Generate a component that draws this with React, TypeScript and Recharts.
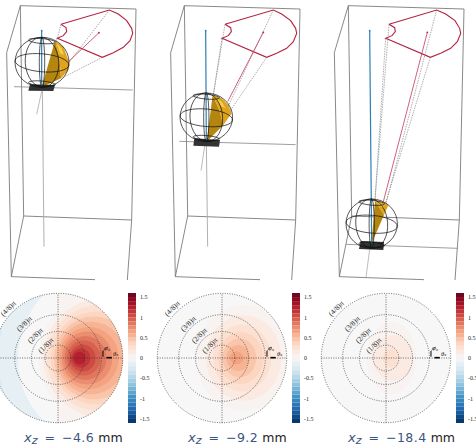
import React from 'react';
import { ScatterChart, Scatter, XAxis, YAxis, ReferenceArea } from 'recharts';

// colour bar bands
const bandEdges = [-1.6, -1.5, -1.4, -1.3, -1.2, -1.1, -1, -0.9, -0.8, -0.7, -0.6, -0.5, -0.4, -0.3, -0.2, -0.1, 0, 0.1, 0.2, 0.3, 0.4, 0.5, 0.6, 0.7, 0.8, 0.9, 1, 1.1, 1.2, 1.3, 1.4, 1.5, 1.6];
const barTicks = [-1.5, -1, -0.5, 0, 0.5, 1, 1.5];
const ringRadii = [0.2, 0.41, 0.67, 1];
const ringLabels = ['(1/8)π', '(2/8)π', '(3/8)π', '(4/8)π'];
const ringLabelX = [-0.18, -0.345, -0.515, -0.76];
const ringLabelY = [0.186, 0.34, 0.52, 0.757];

// contour bands of the three polar maps: value, left, right, half height (disc radius = 1)
const levelsA = [0.05, 0.15, 0.25, 0.35, 0.45, 0.55, 0.65, 0.75, 0.85, 0.95, 1.05, 1.15, 1.25];
const leftA = [-0.3, -0.23, -0.17, -0.11, -0.06, -0.02, 0.02, 0.06, 0.1, 0.14, 0.18, 0.21, 0.24];
const rightA = [1.8, 1.62, 1.46, 1.32, 1.17, 1.05, 0.94, 0.84, 0.75, 0.66, 0.58, 0.5, 0.42];
const halfA = [1.05, 0.92, 0.82, 0.72, 0.64, 0.56, 0.48, 0.41, 0.34, 0.27, 0.21, 0.15, 0.1];
const levelsB = [0.05, 0.15, 0.25, 0.35, 0.45, 0.55, 0.65];
const leftB = [-0.4, -0.25, -0.14, -0.06, 0.01, 0.07, 0.12];
const rightB = [1.08, 0.92, 0.76, 0.64, 0.53, 0.43, 0.33];
const halfB = [0.82, 0.66, 0.52, 0.4, 0.3, 0.2, 0.1];
const levelsC = [0.05, 0.15, 0.25];
const leftC = [-0.3, -0.2, -0.05];
const rightC = [0.47, 0.41, 0.2];
const halfC = [0.56, 0.35, 0.15];

// outer blue crescent of the first map
const blueLevels = [-0.15, 0];
const blueLeft = [-0.92, -0.62];
const blueRight = [1.8, 1.84];
const blueHalf = [1.6, 1.32];

// wireframe sphere, relative to its centre: cx, cy, rx, ry, tilt
const wireCx = [0, 0, 0, 0, 0, 0];
const wireCy = [0, 0.02, -0.85, 0.85, 0, 0];
const wireRx = [1, 1, 0.5, 0.5, 0.62, 0.1];
const wireRy = [1, 0.36, 0.1, 0.1, 1, 1];
const wireTilt = [0, 5, 5, 5, -4, 0];

type P = { x: number; y: number };
const pts = (list: number[][]): P[] => list.map(([x, y]) => ({ x: x / 3, y: y / 3 }));

const panels = [
  {
    w: 160,
    box: [[[61, 17], [408, 27], [395, 660], [382, 840]], [[61, 17], [20, 158], [34, 830], [285, 839]], [[61, 17], [71, 648], [395, 660]], [[71, 648], [34, 830]]],
    floor: [[42, 260], [398, 270]],
    axis: [[127, 260], [132, 740]],
    tail: [[127, 265], [110, 343]],
    blue: [[125, 92], [125, 262]],
    red: [[183, 73], [328, 30], [355, 42], [380, 62], [395, 85], [398, 100], [390, 122], [370, 142], [340, 158], [307, 172], [172, 115], [190, 107], [200, 95], [198, 83], [183, 73]],
    ray: [[297, 98], [200, 190]],
    dashed: [[[328, 30], [205, 190]], [[307, 172], [190, 232]], [[172, 115], [165, 135]], [[183, 73], [172, 115]]],
    wedge: [[125, 262], [165, 122], [178, 170], [183, 235]],
    cap: [[165, 122], [190, 140], [207, 185], [205, 210], [183, 235], [178, 170]],
    glow: [[170, 130], [185, 145], [192, 165], [180, 160]],
    plate: [[90, 253], [165, 255], [160, 273], [85, 272]],
    sphere: [42, 62.3, 27, 25],
  },
  {
    w: 160,
    box: [[[73, 17], [420, 27], [407, 660], [395, 840]], [[73, 17], [32, 158], [46, 830], [300, 839]], [[73, 17], [83, 648], [407, 660]], [[83, 648], [46, 830]]],
    floor: [[58, 424], [407, 434]],
    axis: [[139, 425], [143, 740]],
    tail: [[136, 425], [123, 512]],
    blue: [[137, 92], [139, 425]],
    red: [[195, 73], [340, 30], [365, 42], [392, 62], [407, 85], [410, 100], [400, 125], [380, 145], [350, 160], [320, 172], [186, 115], [205, 107], [214, 95], [212, 83], [195, 73]],
    ray: [[310, 97], [203, 305]],
    dashed: [[[340, 30], [190, 350]], [[320, 172], [195, 355]], [[186, 115], [160, 285]], [[195, 73], [160, 285]]],
    wedge: [[140, 425], [158, 285], [178, 330], [190, 375]],
    cap: [[158, 285], [185, 295], [205, 315], [215, 340], [190, 375], [178, 330]],
    glow: [[165, 292], [185, 305], [197, 325], [182, 318]],
    plate: [[103, 415], [180, 420], [177, 440], [100, 437]],
    sphere: [46.3, 117.3, 26.3, 24.3],
  },
  {
    w: 156,
    box: [[[85, 17], [432, 27], [418, 660], [405, 840]], [[85, 17], [43, 158], [58, 830], [312, 839]], [[85, 17], [95, 648], [418, 660]], [[95, 648], [58, 830]]],
    floor: [[78, 733], [413, 745]],
    axis: [[155, 730], [155, 745]],
    tail: [[150, 740], [138, 832]],
    blue: [[149, 92], [155, 730]],
    red: [[207, 73], [350, 30], [377, 42], [405, 62], [419, 85], [422, 100], [412, 125], [392, 145], [362, 160], [331, 172], [197, 115], [216, 107], [226, 95], [224, 83], [207, 73]],
    ray: [[322, 97], [190, 605]],
    dashed: [[[350, 30], [198, 610]], [[331, 172], [195, 615]], [[197, 115], [165, 600]], [[207, 73], [165, 600]]],
    wedge: [[155, 730], [165, 602], [192, 645]],
    cap: [[165, 602], [195, 608], [205, 616], [192, 645]],
    glow: [[172, 606], [188, 612], [192, 625], [183, 620]],
    plate: [[122, 723], [192, 726], [190, 750], [117, 747]],
    sphere: [51.7, 223.7, 25.7, 24.7],
  },
];

const stops = ['#053061', '#2166ac', '#4393c3', '#92c5de', '#d1e5f0', '#f7f7f7', '#fddbc7', '#f4a582', '#d6604d', '#b2182b', '#67001f'];
const rdbu = (v: number) => {
  const t = Math.min(0.9999, Math.max(0, (v + 1.6) / 3.2)) * 10;
  const i = Math.floor(t);
  const a = parseInt(stops[i].slice(1), 16);
  const b = parseInt(stops[i + 1].slice(1), 16);
  const f = t - i;
  const mix = (s: number) => Math.round(((a >> s) & 255) * (1 - f) + ((b >> s) & 255) * f);
  return `rgb(${mix(16)},${mix(8)},${mix(0)})`;
};

const noDot = () => null as any;

const polyLine = (list: number[][], stroke: string, width: number, key: string, dash?: string) => (
  <Scatter key={key} data={pts(list)} isAnimationActive={false} shape={noDot} fill="none"
    line={{ stroke, strokeWidth: width, strokeDasharray: dash }} />
);

const polyFill = (list: number[][], fill: string, key: string) => (
  <Scatter key={key} data={pts(list)} isAnimationActive={false} shape={noDot} fill="none"
    line={(p: any) => <polygon points={p.points.map((q: any) => `${q.x},${q.y}`).join(' ')} fill={fill} stroke="none" />} />
);

const tipDot = (pt: number[], fill: string, key: string) => (
  <Scatter key={key} data={pts([pt])} isAnimationActive={false}
    shape={(p: any) => <circle cx={p.cx} cy={p.cy} r={0.9} fill={fill} />} />
);

const ellipseShape = (tilt = 0, clip?: string, dash?: string) => (p: any) => {
  const cx = p.x + p.width / 2;
  const cy = p.y + p.height / 2;
  return (
    <ellipse cx={cx} cy={cy} rx={p.width / 2} ry={p.height / 2} fill={p.fill} stroke={p.stroke}
      strokeWidth={p.strokeWidth} strokeDasharray={dash} clipPath={clip}
      transform={tilt ? `rotate(${tilt} ${cx} ${cy})` : undefined} />
  );
};

const Scene = ({ panel }: { panel: (typeof panels)[number] }) => {
  const [sx, sy, srx, sry] = panel.sphere;
  return (
    <ScatterChart width={panel.w} height={285} margin={{ top: 0, right: 0, bottom: 0, left: 0 }}>
      <XAxis type="number" dataKey="x" domain={[0, panel.w]} hide allowDataOverflow />
      <YAxis type="number" dataKey="y" domain={[0, 285]} reversed hide allowDataOverflow />
      {panel.box.map((b, i) => polyLine(b, '#7c7c7c', 0.9, `box${i}`))}
      {polyLine(panel.floor, '#858585', 0.8, 'floor')}
      {polyLine(panel.axis, '#a8a8a8', 0.9, 'axis')}
      {polyLine(panel.tail, '#a0a0a0', 0.7, 'tail')}
      {polyLine(panel.red, '#b5213f', 1.1, 'red')}
      {panel.dashed.map((d, i) => polyLine(d, '#777777', 0.6, `dash${i}`, '1.5 1'))}
      {polyLine(panel.ray, '#c23a58', 0.8, 'ray')}
      {tipDot(panel.ray[0], '#b5213f', 'raytip')}
      {polyFill(panel.wedge, '#b5860f', 'wedge')}
      {polyFill(panel.cap, '#dfa41c', 'cap')}
      {polyFill(panel.glow, '#f6cf4a', 'glow')}
      {polyFill(panel.plate, '#333333', 'plate')}
      {polyLine(panel.blue, '#2f7fb5', 1.2, 'blue')}
      {tipDot(panel.blue[0], '#2f7fb5', 'bluetip')}
      {wireCx.map((cx, i) => (
        <ReferenceArea key={`w${i}`} ifOverflow="visible" zIndex={900}
          x1={sx + (cx - wireRx[i]) * srx} x2={sx + (cx + wireRx[i]) * srx}
          y1={sy + (wireCy[i] - wireRy[i]) * sry} y2={sy + (wireCy[i] + wireRy[i]) * sry}
          fill="none" stroke="#111111" strokeWidth={0.7} shape={ellipseShape(wireTilt[i])} />
      ))}
    </ScatterChart>
  );
};

const band = (v: number, l: number, r: number, h: number, clip: string, key: string) => (
  <ReferenceArea key={key} ifOverflow="visible" x1={l} x2={r} y1={-h} y2={h} fill={rdbu(v)} stroke="none" shape={ellipseShape(0, clip)} />
);

const PolarMap = ({ id, levels, left, right, half, extra }: any) => {
  const clip = `url(#disc-${id})`;
  const dots = { stroke: '#2e2e2e', strokeWidth: 0.7, strokeDasharray: '1 1.4' };
  return (
    <ScatterChart width={132} height={132} margin={{ top: 0, right: 0, bottom: 0, left: 0 }}>
      <XAxis type="number" dataKey="x" domain={[-1.02, 1.02]} hide allowDataOverflow />
      <YAxis type="number" dataKey="y" domain={[-1.02, 1.02]} hide allowDataOverflow />
      <ReferenceArea ifOverflow="visible" x1={-1} x2={1} y1={-1} y2={1} fill="none"
        shape={(p: any) => (
          <defs>
            <clipPath id={`disc-${id}`}>
              <ellipse cx={p.x + p.width / 2} cy={p.y + p.height / 2} rx={p.width / 2} ry={p.height / 2} />
            </clipPath>
          </defs>
        )} />
      {band(extra ? -0.25 : 0, -1, 1, 1, clip, 'base')}
      {extra && blueLevels.map((v, i) => band(v, blueLeft[i], blueRight[i], blueHalf[i], clip, `blue${i}`))}
      {extra && (
        <ReferenceArea ifOverflow="visible" x1={0} x2={1} y1={-1} y2={1} fill={rdbu(0.05)} stroke="none"
          shape={(p: any) => <rect x={p.x} y={p.y} width={p.width} height={p.height} fill={p.fill} clipPath={clip} />} />
      )}
      {levels.map((v: number, i: number) => band(v, left[i], right[i], half[i], clip, `lev${i}`))}
      {ringRadii.map((r, i) => (
        <ReferenceArea key={`r${i}`} ifOverflow="visible" x1={-r} x2={r} y1={-r} y2={r} fill="none"
          stroke={dots.stroke} strokeWidth={dots.strokeWidth} shape={ellipseShape(0, undefined, dots.strokeDasharray)} />
      ))}
      <Scatter data={[{ x: -1, y: 0 }, { x: 1, y: 0 }]} isAnimationActive={false} shape={noDot} fill="none" line={dots} />
      <Scatter data={[{ x: 0, y: -1 }, { x: 0, y: 1 }]} isAnimationActive={false} shape={noDot} fill="none" line={dots} />
      <Scatter data={ringLabels.map((t, i) => ({ x: ringLabelX[i], y: ringLabelY[i], t }))} isAnimationActive={false}
        shape={(p: any) => (
          <text x={p.cx} y={p.cy} transform={`rotate(-45 ${p.cx} ${p.cy})`} textAnchor="middle" dominantBaseline="middle"
            fontFamily="'Liberation Serif', serif" fontSize={7.5} fill="#222">{p.payload.t}</text>
        )} />
      <Scatter data={[{ x: 0.75, y: 0.005 }, { x: 0.83, y: 0.005 }]} isAnimationActive={false} shape={noDot} fill="none"
        line={{ stroke: '#000', strokeWidth: 1.6 }} />
      <Scatter data={[{ x: 0.695, y: 0.02 }, { x: 0.695, y: 0.11 }]} isAnimationActive={false} shape={noDot} fill="none"
        line={{ stroke: '#000', strokeWidth: 1 }} />
      <Scatter data={[{ x: 0.7, y: 0.11 }, { x: 0.73, y: 0.15 }, { x: 0.77, y: 0.17 }]} isAnimationActive={false} shape={noDot} fill="none"
        line={{ stroke: '#333', strokeWidth: 0.5 }} />
      <Scatter data={[{ x: 0.89, y: 0.06, t: 'θ', s: 'x' }, { x: 0.76, y: 0.14, t: 'φ', s: 'x' }]} isAnimationActive={false}
        shape={(p: any) => (
          <text x={p.cx} y={p.cy} textAnchor="middle" dominantBaseline="middle" fontFamily="'Liberation Serif', serif" fontStyle="italic" fontSize={6.5} fill="#111">
            {p.payload.t}<tspan fontSize={4.5} dy={1}>{p.payload.s}</tspan>
          </text>
        )} />
    </ScatterChart>
  );
};

const ColorBar = () => (
  <ScatterChart width={30} height={130} margin={{ top: 0, right: 0, bottom: 0, left: 0 }}>
    <XAxis type="number" dataKey="x" domain={[0, 1]} hide allowDataOverflow />
    <YAxis type="number" dataKey="y" orientation="right" width={22} domain={[-1.6, 1.6]} ticks={barTicks} allowDataOverflow
      axisLine={false} tickLine={false} tickSize={2} interval={0}
      tick={{ fontSize: 6, fontFamily: "'Liberation Serif', serif", fill: '#222', textAnchor: 'start' }} />
    {bandEdges.slice(0, -1).map((v, i) => (
      <ReferenceArea key={i} ifOverflow="visible" x1={0} x2={1} y1={v} y2={bandEdges[i + 1]} fill={rdbu(v + 0.05)} fillOpacity={1} stroke="none" />
    ))}
    <Scatter data={[{ x: 0, y: 0 }]} isAnimationActive={false} shape={noDot} />
  </ScatterChart>
);

const place = (left: number, top: number): React.CSSProperties => ({ position: 'absolute', left, top });

const Title = ({ left, value }: { left: number; value: string }) => (
  <div style={{ ...place(left, 428.5), fontFamily: "'DejaVu Sans', sans-serif", fontSize: 12.5, color: '#3a5580', whiteSpace: 'pre', lineHeight: '18px' }}>
    <span style={{ fontStyle: 'italic', fontSize: 13 }}>x</span>
    <span style={{ fontStyle: 'italic', fontSize: 11, position: 'relative', top: 2.5 }}>z</span>
    <span style={{ letterSpacing: 0.5, marginLeft: 2.5 }}> =</span>
    <span style={{ letterSpacing: 0.5, marginLeft: 2 }}>{` ${value}`}</span>
    <span style={{ color: '#222' }}> mm</span>
  </div>
);

export default function App() {
  return (
    <div style={{ position: 'absolute', left: 0, top: 0, width: 476, height: 446, overflow: 'hidden', background: '#fff' }}>
      <div style={place(0, 0)}><Scene panel={panels[0]} /></div>
      <div style={place(160, 0)}><Scene panel={panels[1]} /></div>
      <div style={place(320, 0)}><Scene panel={panels[2]} /></div>

      <div style={place(-7.7, 292)}><PolarMap id="a" levels={levelsA} left={leftA} right={rightA} half={halfA} extra /></div>
      <div style={place(156.3, 292)}><PolarMap id="b" levels={levelsB} left={leftB} right={rightB} half={halfB} /></div>
      <div style={place(320.3, 292)}><PolarMap id="c" levels={levelsC} left={leftC} right={rightC} half={halfC} /></div>

      <div style={place(128.3, 293)}><ColorBar /></div>
      <div style={place(292.3, 293)}><ColorBar /></div>
      <div style={place(456, 293)}><ColorBar /></div>

      <Title left={24} value="−4.6" />
      <Title left={188} value="−9.2" />
      <Title left={348} value="−18.4" />
    </div>
  );
}
